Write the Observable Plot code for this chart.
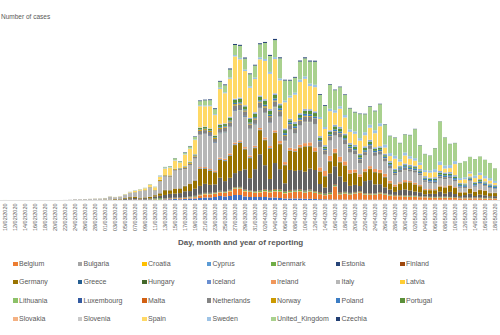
<!DOCTYPE html>
<html><head><meta charset="utf-8">
<script src="https://cdn.jsdelivr.net/npm/d3@7"></script>
<script src="https://cdn.jsdelivr.net/npm/@observablehq/plot@0.6"></script>
<style>
html,body{margin:0;padding:0;background:#fff;}
#wrap{position:relative;width:500px;height:335px;overflow:hidden;font-family:"Liberation Sans",Arial,sans-serif;}
#chart{position:absolute;left:0;top:0;}
.ylab{position:absolute;left:1px;top:13px;font-size:6.5px;color:#595959;white-space:nowrap;line-height:8px;}
.xt{position:absolute;left:178px;top:238px;font-size:8px;font-weight:bold;color:#595959;white-space:nowrap;line-height:10px;}
.leg{position:absolute;font-size:7px;color:#595959;white-space:nowrap;line-height:8px;height:8px;}
.sw{display:inline-block;width:4.5px;height:4.5px;margin-right:1.5px;vertical-align:0px;}
</style>
</head><body>
<div id="wrap"><div id="chart"></div><div class="ylab">Number of cases</div><div class="xt">Day, month and year of reporting</div></div>
<script>
const dates = ["10/02/2020","11/02/2020","12/02/2020","13/02/2020","14/02/2020","15/02/2020","16/02/2020","17/02/2020","18/02/2020","19/02/2020","20/02/2020","21/02/2020","22/02/2020","23/02/2020","24/02/2020","25/02/2020","26/02/2020","27/02/2020","28/02/2020","29/02/2020",
"01/03/2020","02/03/2020","03/03/2020","04/03/2020","05/03/2020","06/03/2020","07/03/2020","08/03/2020","09/03/2020","10/03/2020","11/03/2020","12/03/2020","13/03/2020","14/03/2020","15/03/2020","16/03/2020","17/03/2020","18/03/2020","19/03/2020","20/03/2020","21/03/2020","22/03/2020","23/03/2020","24/03/2020","25/03/2020","26/03/2020","27/03/2020","28/03/2020","29/03/2020","30/03/2020","31/03/2020",
"01/04/2020","02/04/2020","03/04/2020","04/04/2020","05/04/2020","06/04/2020","07/04/2020","08/04/2020","09/04/2020","10/04/2020","11/04/2020","12/04/2020","13/04/2020","14/04/2020","15/04/2020","16/04/2020","17/04/2020","18/04/2020","19/04/2020","20/04/2020","21/04/2020","22/04/2020","23/04/2020","24/04/2020","25/04/2020","26/04/2020","27/04/2020","28/04/2020","29/04/2020","30/04/2020",
"01/05/2020","02/05/2020","03/05/2020","04/05/2020","05/05/2020","06/05/2020","07/05/2020","08/05/2020","09/05/2020","10/05/2020","11/05/2020","12/05/2020","13/05/2020","14/05/2020","15/05/2020","16/05/2020","17/05/2020","18/05/2020"];

const countries = ["Austria","Belgium","Bulgaria","Croatia","Cyprus","Denmark","Estonia","Finland","France","Germany","Greece","Hungary","Iceland","Ireland","Italy","Latvia","Liechtenstein","Lithuania","Luxembourg","Malta","Netherlands","Norway","Poland","Portugal","Romania","Slovakia","Slovenia","Spain","Sweden","United_Kingdom","Czechia"];
const colors = ["#4472C4","#ED7D31","#A5A5A5","#FFC000","#5B9BD5","#70AD47","#264478","#9E480E","#636363","#997300","#255E91","#43682B","#698ED0","#F1975A","#B7B7B7","#FFCD33","#7CAFDD","#8CC168","#335AA1","#D26012","#848484","#CC9A00","#3C7DC4","#5A8F39","#8FAADC","#F4B183","#C9C9C9","#FFD966","#9DC3E6","#A9D18E","#223F73"];
// Entries shown in the (cropped) legend of the reference
const legendCountries = ["Belgium","Bulgaria","Croatia","Cyprus","Denmark","Estonia","Finland","Germany","Greece","Hungary","Iceland","Ireland","Italy","Latvia","Lithuania","Luxembourg","Malta","Netherlands","Norway","Poland","Portugal","Slovakia","Slovenia","Spain","Sweden","United_Kingdom","Czechia"];

const austria = [0,0,0,0,0,0,0,0,0,0,0,0,0,0,0,0,0,0,0,0,
5,4,8,5,10,20,25,25,20,30,40,60,120,150,200,150,200,300,300,
400,500,500,600,800,700,800,1000,1000,700,600,600,600,600,500,500,400,300,300,300,300,240,240,200,160,140,120,100,100,80,80,80,80,60,60,60,60,60,40,50,40,60,30,40,50,40,30,50,40,60,40,50,20,30,20,40,30,20,30,20];
const belgium = [0,0,0,0,0,0,0,0,0,0,0,0,0,0,0,0,0,0,0,0,0,
1,6,5,15,50,60,60,30,40,80,47,85,160,130,200,170,190,250,
500,600,600,600,700,700,900,1200,1200,1000,1000,800,900,1100,1000,1200,1200,1000,1200,1300,1400,1200,1400,1200,1000,800,1000,2600,1000,1200,1000,1200,1400,1000,1000,1000,1200,1000,800,700,700,600,600,600,500,500,400,400,400,400,400,360,300,300,300,300,300,260,260,240];
const bulgaria = [0,0,0,0,0,0,0,0,0,0,0,0,0,0,0,0,0,0,0,0,0,0,0,0,0,0,0,4,0,0,
2,0,0,4,7,10,20,10,30,
20,30,20,25,35,20,30,20,40,30,25,35,20,30,40,25,30,35,40,30,20,30,45,30,
30,20,40,35,20,25,40,30,20,35,40,30,20,25,45,30,20,30,
40,35,20,45,30,20,30,40,35,20,40,30,25,30,20,35,40,20];
const croatia = [0,0,0,0,0,0,0,0,0,0,0,0,0,0,0,1,2,0,1,2,0,1,0,1,0,1,2,1,0,2,
2,4,5,10,10,20,20,30,50,
60,80,60,70,50,60,80,70,60,70,50,60,70,50,60,50,70,60,50,40,50,30,40,30,
30,20,30,20,15,20,10,15,10,20,10,15,10,5,10,8,5,10,
5,8,3,4,6,2,5,3,2,4,3,1,2,3,1,2,3,1];
const cyprus = [0,0,0,0,0,0,0,0,0,0,0,0,0,0,0,0,0,0,0,0,0,0,0,0,0,0,0,0,0,0,
2,2,4,6,8,10,20,10,20,
20,10,30,20,20,30,20,30,40,20,30,20,30,20,40,30,20,20,30,20,10,20,10,20,
10,20,10,5,10,8,5,10,5,8,5,3,5,10,5,3,2,5,
3,5,2,3,1,2,3,2,1,3,2,1,2,1,0,2,1,0];
const denmark = [0,0,0,0,0,0,0,0,0,0,0,0,0,0,0,0,0,
1,0,0,1,0,3,2,5,6,10,10,10,50,170,250,60,30,40,20,50,80,100,
100,100,100,100,120,120,120,140,160,160,120,160,200,200,200,240,300,200,200,200,240,200,200,200,200,160,200,200,200,200,200,160,160,160,140,140,140,140,120,120,120,120,120,120,100,100,100,100,100,100,100,100,80,80,80,80,80,80,80,60];
const estonia = [0,0,0,0,0,0,0,0,0,0,0,0,0,0,0,0,0,0,1,0,0,0,1,0,0,1,5,0,3,4,
5,10,20,30,40,50,30,20,50,
60,40,50,30,60,70,40,30,40,50,60,30,50,60,40,30,50,30,40,60,70,30,40,20,
30,20,40,50,30,20,30,20,10,20,30,10,20,10,15,10,20,10,
10,8,5,10,6,4,8,5,3,6,4,5,3,2,4,3,5,2];
const finland = [0,0,0,0,0,0,0,0,0,0,0,0,0,0,0,0,0,1,0,0,1,1,0,3,0,1,5,4,10,10,
5,10,15,40,30,20,40,50,50,
60,70,80,80,70,80,50,90,80,100,80,60,80,100,130,120,90,100,150,80,90,120,110,100,
140,110,90,130,150,80,60,100,110,80,90,60,110,80,50,100,80,70,
100,70,60,50,70,40,70,60,40,50,30,40,60,50,40,30,40,30];
const france = [0,0,0,0,0,1,0,0,0,0,0,0,0,0,
2,10,20,20,20,40,45,30,90,60,200,280,300,190,300,200,400,450,700,800,800,900,1200,1100,1400,
1600,1800,1600,1600,2600,2000,2400,2800,3200,4000,2400,4400,7200,4800,2200,5200,4000,1600,4000,3800,3800,3800,4200,4200,1600,1200,3800,3600,3200,2000,1400,1400,1000,2400,2600,1800,1600,1200,1000,600,1000,1200,1000,800,800,400,600,600,1000,600,1000,600,300,500,800,300,600,500,300,400];
const germany = [2,0,0,0,0,0,0,0,0,0,0,0,0,0,
10,12,10,26,26,26,50,60,100,90,150,200,270,160,150,300,250,500,950,700,1000,900,1000,1400,1580,
3400,3000,2800,2400,3600,4000,4400,5600,5600,4000,4000,4200,4800,5000,6000,6000,5000,3600,3800,3800,4400,5000,4400,3600,2400,2200,2400,2600,2800,3200,2400,2400,1800,1800,2200,2400,2200,2000,1200,1000,1200,1400,1600,1400,1200,800,700,700,1000,1200,1200,1200,700,500,900,800,900,900,600,600];
const greece = [0,0,0,0,0,0,0,0,0,0,0,0,0,0,0,0,0,1,2,0,0,4,0,2,3,10,0,35,0,17,
2,5,10,20,20,40,30,30,50,
50,80,60,30,70,90,60,70,80,60,100,60,60,50,90,60,50,70,60,40,60,30,40,20,
20,30,40,20,30,10,20,20,10,30,15,20,10,80,20,15,20,15,
10,15,10,20,10,15,10,5,10,20,10,5,10,10,15,5,10,5];
const hungary = [0,0,0,0,0,0,0,0,0,0,0,0,0,0,0,0,0,0,0,0,0,0,0,0,2,0,1,4,2,0,
2,3,4,5,6,5,10,15,20,
30,30,40,20,20,40,30,40,30,40,50,40,30,50,60,40,50,40,50,70,80,60,80,90,
100,70,60,80,90,80,70,60,40,70,80,60,50,40,60,70,50,60,
40,50,30,40,30,50,40,60,30,20,30,40,30,20,40,30,20,30];
const iceland = [0,0,0,0,0,0,0,0,0,0,0,0,0,0,0,0,0,0,0,1,0,2,3,6,10,5,12,10,2,15,
10,20,30,20,20,40,30,60,60,
80,70,60,50,90,100,80,100,90,60,80,90,60,50,40,30,40,30,20,30,20,10,20,10,
10,10,5,5,10,5,3,2,3,2,5,3,2,1,1,2,1,0,
1,0,2,1,0,0,1,0,0,1,0,0,1,0,0,0,1,0];
const ireland = [0,0,0,0,0,0,0,0,0,0,0,0,0,0,0,0,0,0,0,0,
0,1,0,0,1,5,2,4,6,2,8,10,15,20,30,40,50,70,70,
200,200,200,200,240,240,300,300,300,300,300,300,300,400,400,400,500,500,500,500,500,600,700,800,800,1000,1000,800,1000,800,700,600,500,500,500,600,600,600,500,400,300,400,300,300,240,200,200,200,200,200,160,160,100,100,100,100,100,80,80,60];
const italy = [0,0,0,0,0,0,0,0,0,0,0,0,
17,60,140,130,160,180,230,220,260,560,340,460,590,770,780,1250,1300,1800,880,2313,2651,2547,3497,3590,3233,3526,4207,
6400,6600,6600,5600,4800,5200,5200,6200,6000,6000,5200,4200,4000,4800,4600,4600,4800,4200,3600,3000,3800,4200,4000,4600,4000,3200,3000,2600,3800,3400,3400,3000,2200,2700,3400,2600,3000,2400,2400,1800,2000,2000,1800,2000,1900,1400,1200,1100,1400,1400,1300,1100,800,740,1400,900,1000,800,880,680];
const latvia = [0,0,0,0,0,0,0,0,0,0,0,0,0,0,0,0,0,0,0,0,0,0,1,0,0,0,1,0,3,2,
2,3,4,5,10,10,15,20,20,
30,20,20,30,20,30,20,30,20,40,30,20,30,20,30,20,30,20,20,10,20,10,20,10,
10,20,10,10,5,10,20,10,5,10,5,10,5,10,5,8,5,10,
5,8,5,3,5,2,5,8,3,5,2,3,5,2,4,3,2,5];
const liechtenstein = [0,0,0,0,0,0,0,0,0,0,0,0,0,0,0,0,0,0,0,0,0,0,0,0,0,0,0,0,0,0,
0,0,0,1,2,3,2,4,5,
5,3,6,4,5,3,2,4,3,2,2,3,1,2,1,2,1,1,1,0,1,0,1,0,
0,1,0,0,1,0,0,0,0,1,0,0,0,0,0,0,0,0,
0,0,0,0,0,0,0,0,0,0,0,0,0,0,0,0,0,0];
const lithuania = [0,0,0,0,0,0,0,0,0,0,0,0,0,0,0,0,0,0,1,0,0,0,0,0,0,0,0,0,0,2,
0,0,1,2,3,5,10,10,20,
20,30,20,30,40,50,30,40,50,40,30,40,50,40,30,50,40,30,40,50,40,30,40,30,
30,40,30,20,30,20,40,30,20,30,20,10,20,30,20,10,20,10,
20,10,15,10,20,10,15,10,5,10,15,10,5,10,8,10,5,8];
const luxembourg = [0,0,0,0,0,0,0,0,0,0,0,0,0,0,0,0,0,0,0,0,1,0,0,0,0,0,1,1,0,2,
0,2,3,7,12,8,20,30,60,
80,90,130,110,150,120,130,160,150,140,120,100,110,120,100,90,80,70,60,50,60,50,40,40,
30,25,40,30,20,20,15,10,15,20,10,10,12,8,10,5,8,6,
5,6,4,3,5,10,4,3,2,5,4,3,2,5,3,2,4,3];
const malta = [0,0,0,0,0,0,0,0,0,0,0,0,0,0,0,0,0,0,0,0,0,0,0,0,0,0,0,0,0,0,
0,1,2,3,5,8,10,10,20,
10,20,20,10,20,10,20,10,20,10,20,10,10,20,10,20,10,10,20,10,10,20,10,10,
10,5,10,8,5,10,5,3,5,10,5,3,5,2,5,3,5,2,
3,2,5,3,2,1,3,2,1,3,2,1,2,3,1,2,1,2];
const netherlands = [0,0,0,0,0,0,0,0,0,0,0,0,0,0,0,0,0,
1,2,5,5,8,6,14,20,40,50,60,77,60,55,120,120,190,150,180,280,290,350,
700,600,600,600,700,800,800,1000,900,900,800,900,900,1000,1000,1000,1000,900,800,800,900,1000,1000,1000,1000,800,800,800,800,800,800,700,700,600,600,600,600,600,500,400,400,400,400,400,360,300,240,300,400,400,300,300,200,200,200,200,200,200,200,160];
const norway = [0,0,0,0,0,0,0,0,0,0,0,0,0,0,0,0,1,
0,3,2,5,4,6,10,15,25,40,30,40,50,50,200,130,100,160,50,150,200,150,
200,200,200,200,240,200,200,240,240,200,200,200,200,240,200,200,200,160,160,160,160,160,160,120,100,80,80,80,80,80,80,80,80,80,80,80,80,60,60,60,60,60,60,60,40,40,40,40,40,40,40,40,40,40,40,40,40,40,20,20];
const poland = [0,0,0,0,0,0,0,0,0,0,0,0,0,0,0,0,0,0,0,0,0,0,0,0,
1,0,5,5,6,5,15,20,20,30,40,50,50,60,80,
100,120,120,120,160,160,200,240,240,200,200,240,240,300,300,400,400,400,400,400,400,400,360,360,280,300,300,330,300,300,300,260,300,300,300,320,300,300,300,280,300,300,300,340,300,300,300,310,300,300,300,330,300,300,300,290,300,300,300,320];
const portugal = [0,0,0,0,0,0,0,0,0,0,0,0,0,0,0,0,0,0,0,0,0,
2,0,2,2,5,4,8,9,10,11,20,20,30,40,60,80,110,140,
300,300,300,300,400,360,500,600,700,600,700,700,700,800,800,700,600,600,400,500,600,600,700,700,500,400,500,600,600,600,400,500,500,500,500,400,400,300,300,300,200,200,300,300,240,200,200,300,400,300,300,300,200,200,200,200,300,200,200,160];
const romania = [0,0,0,0,0,0,0,0,0,0,0,0,0,0,0,0,0,
1,0,0,0,0,0,0,0,0,2,0,0,5,0,10,0,10,0,20,20,40,50,
60,80,80,80,120,100,160,200,200,200,200,240,240,300,300,300,300,300,280,320,300,340,300,320,280,300,310,300,340,290,300,320,280,300,330,300,290,300,310,280,300,320,300,290,310,300,280,300,320,300,310,290,200,200,210,190,200,220,200,190];
const slovakia = [0,0,0,0,0,0,0,0,0,0,0,0,0,0,0,0,0,0,0,0,0,0,0,0,0,1,0,2,0,4,
0,1,2,3,5,10,20,10,20,
30,20,40,30,40,30,20,30,40,30,20,40,30,20,30,40,50,30,40,60,40,30,20,30,
20,10,30,20,10,20,30,10,20,10,20,10,5,10,5,10,5,10,
5,3,5,2,4,3,5,2,3,1,4,2,3,1,2,3,1,2];
const slovenia = [0,0,0,0,0,0,0,0,0,0,0,0,0,0,0,0,0,0,0,0,0,0,0,0,1,5,2,4,4,10,
5,10,20,30,40,30,40,60,40,
50,40,30,40,50,40,70,60,50,40,30,40,30,40,20,30,20,30,20,30,20,20,10,20,
10,20,10,15,10,20,10,8,10,5,10,8,5,10,5,3,5,4,
5,3,2,4,3,2,5,3,2,1,3,2,1,2,3,1,2,1];
const spain = [0,0,0,0,0,0,0,0,0,0,0,0,0,0,
4,6,8,10,15,15,20,25,30,40,70,130,250,200,370,440,550,600,1300,1500,1600,1000,2300,2500,2800,
4200,4000,4400,4000,7000,6000,7600,8400,7600,6800,6000,6600,7200,7600,7000,6800,4600,5200,4200,5400,6200,6000,4600,4800,3400,3200,3800,2400,3600,3200,2200,2200,2600,2200,2400,2800,4000,1200,1000,2000,800,1600,1200,1000,800,800,1000,1000,1200,800,800,2200,600,800,600,800,800,600,600,400];
const sweden = [0,0,0,0,0,0,0,0,0,0,0,0,0,0,0,0,0,0,
1,0,0,2,5,4,10,40,50,30,45,50,45,150,160,100,100,60,100,90,120,
200,200,200,200,240,200,240,300,300,300,300,300,400,400,400,400,400,360,400,400,500,500,500,500,400,400,500,500,500,500,500,500,500,600,600,600,600,600,600,600,500,600,500,500,500,400,400,600,700,600,600,600,400,400,400,500,500,500,500,400];
const unitedKingdom = [4,0,1,0,0,0,0,0,0,0,0,0,0,0,0,0,0,
4,5,4,13,12,15,12,50,30,50,45,50,65,50,50,130,200,340,250,250,400,500,
800,1000,1000,1000,1200,1400,1600,2000,2400,2200,2400,2400,2600,3200,3200,3400,4000,4000,3000,3000,3600,3600,4400,4600,4400,4200,4800,4000,3800,4000,4200,3800,4800,3600,3600,3800,3800,4000,3400,3600,3200,3600,4200,5800,3400,3200,3000,4200,8000,5600,4200,3600,3000,3200,2900,3300,3200,3200,3000,2500];
const czechia = [0,0,0,0,0,0,0,0,0,0,0,0,0,0,0,0,0,0,0,0,0,
3,2,3,5,8,6,12,6,10,15,20,30,30,40,50,90,80,100,
140,140,160,160,160,160,200,200,200,200,160,160,200,200,200,240,200,160,160,160,200,200,200,200,160,160,120,120,120,120,100,100,100,100,100,100,100,80,60,60,60,60,60,60,60,40,40,40,40,40,40,40,20,20,20,20,20,20,20,20];

const series = [austria,belgium,bulgaria,croatia,cyprus,denmark,estonia,finland,france,germany,greece,hungary,iceland,ireland,italy,latvia,liechtenstein,lithuania,luxembourg,malta,netherlands,norway,poland,portugal,romania,slovakia,slovenia,spain,sweden,unitedKingdom,czechia];
series.forEach((s, i) => { if (s.length !== dates.length) throw new Error(countries[i] + " has " + s.length); });

const rows = [];
countries.forEach((c, ci) => series[ci].forEach((v, i) => rows.push({date: dates[i], country: c, cases: v})));
const tickLabels = dates.filter((d, i) => i % 2 === 0);

const chart = Plot.plot({
  width: 500, height: 240,
  marginTop: 0, marginBottom: 40, marginLeft: 0, marginRight: 0,
  style: {fontFamily: "Liberation Sans, Arial, sans-serif", color: "#595959", background: "transparent", overflow: "visible"},
  x: {type: "band", domain: dates, range: [-0.8, 499.8], paddingInner: 0.3, paddingOuter: 0.15, label: null},
  y: {domain: [0, 32000], range: [200, 40], axis: null},
  color: {domain: countries, range: colors},
  marks: [
    Plot.barY(rows, {x: "date", y: "cases", fill: "country"}),
    Plot.ruleY([0], {stroke: "#d9d9d9", strokeWidth: 0.8}),
    Plot.axisX({ticks: tickLabels, tickRotate: -90, tickSize: 0, tickPadding: 3, fontSize: 5.5, label: null})
  ]
});
document.getElementById("chart").appendChild(chart);

const wrap = document.getElementById("wrap");
legendCountries.forEach((c, j) => {
  const i = countries.indexOf(c);
  const col = i % 8, row = Math.floor(i / 8);
  const d = document.createElement("div");
  d.className = "leg";
  d.style.left = (-51.5 + 64.5 * col) + "px";
  d.style.top = (260 + 18.4 * row) + "px";
  const sw = document.createElement("span");
  sw.className = "sw";
  sw.style.background = colors[i];
  d.appendChild(sw);
  d.appendChild(document.createTextNode(c));
  wrap.appendChild(d);
});
</script>
</body></html>
